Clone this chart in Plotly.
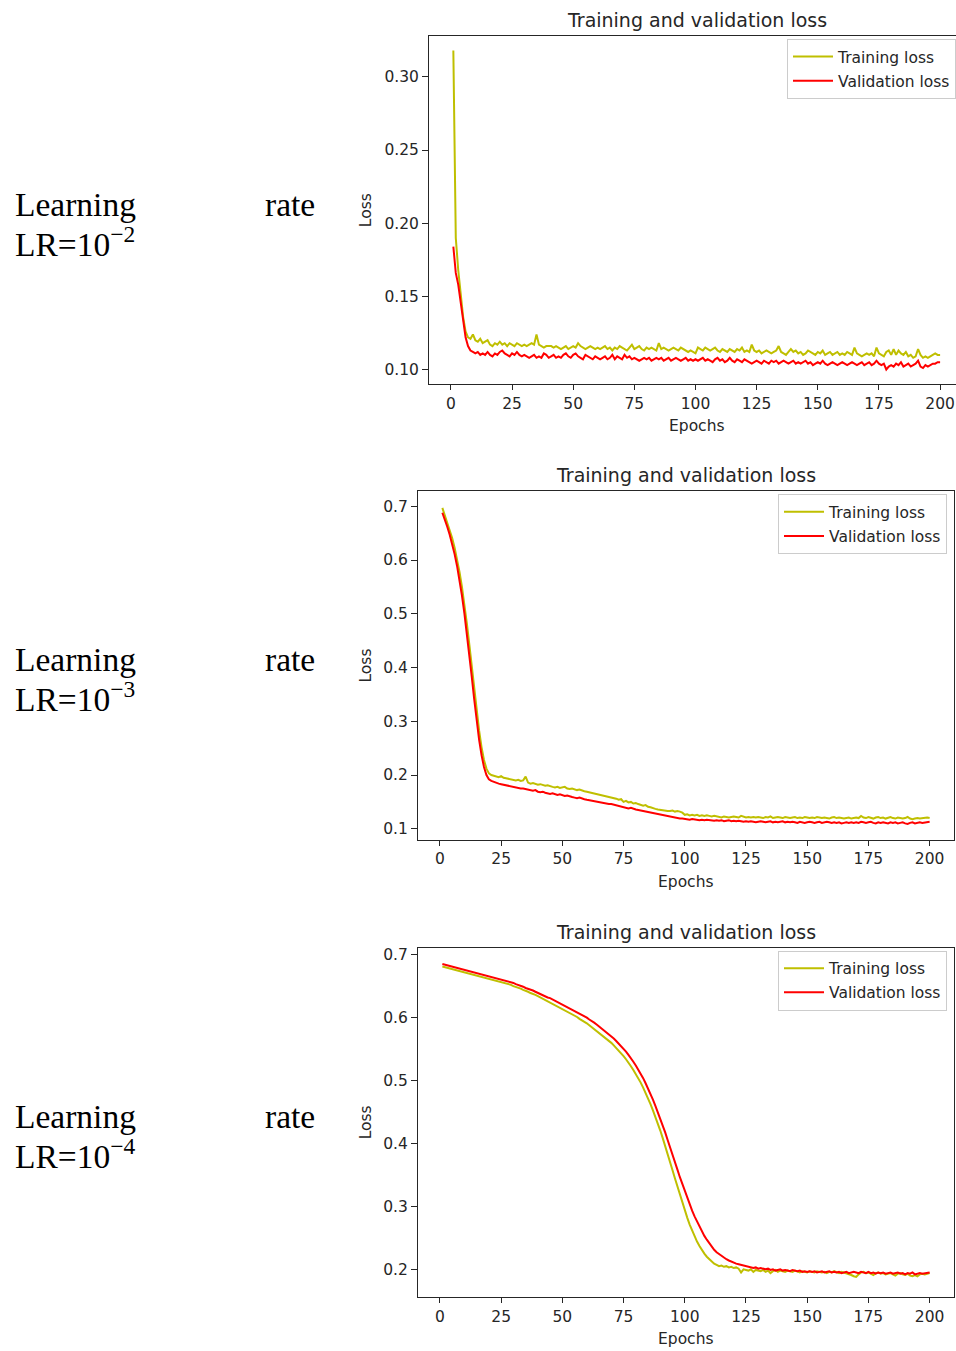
import plotly.graph_objects as go

OFF = 0
W, H = 956, 1351

epochs = list(range(1, 201))
x_ticks = [0, 25, 50, 75, 100, 125, 150, 175, 200]

# ---- LR = 1e-2 ----
train_lr2 = [
    0.318,0.190,0.168,0.150,0.136,0.126,0.122,0.121,0.124,0.120,
    0.119,0.121,0.118,0.119,0.120,0.117,0.116,0.118,0.117,0.119,
    0.117,0.118,0.116,0.118,0.117,0.116,0.118,0.117,0.116,0.117,
    0.116,0.117,0.118,0.117,0.124,0.117,0.116,0.115,0.116,0.116,
    0.116,0.115,0.116,0.115,0.114,0.115,0.116,0.114,0.115,0.116,
    0.115,0.118,0.116,0.115,0.114,0.115,0.116,0.115,0.114,0.115,
    0.114,0.115,0.116,0.114,0.115,0.113,0.115,0.114,0.116,0.115,
    0.114,0.113,0.115,0.117,0.114,0.115,0.116,0.114,0.113,0.115,
    0.114,0.115,0.114,0.113,0.118,0.114,0.115,0.114,0.113,0.114,
    0.115,0.114,0.113,0.115,0.114,0.113,0.112,0.113,0.112,0.111,
    0.115,0.114,0.113,0.115,0.114,0.113,0.114,0.115,0.113,0.112,
    0.114,0.113,0.112,0.114,0.113,0.112,0.114,0.113,0.115,0.112,
    0.113,0.112,0.117,0.113,0.112,0.113,0.111,0.112,0.113,0.112,
    0.111,0.112,0.113,0.116,0.112,0.111,0.110,0.112,0.114,0.112,
    0.113,0.111,0.112,0.110,0.111,0.113,0.112,0.111,0.110,0.112,
    0.111,0.113,0.110,0.111,0.112,0.110,0.111,0.112,0.110,0.111,
    0.110,0.112,0.111,0.110,0.115,0.111,0.110,0.109,0.110,0.111,
    0.110,0.111,0.109,0.115,0.111,0.110,0.109,0.112,0.113,0.110,
    0.114,0.110,0.113,0.111,0.110,0.112,0.109,0.110,0.108,0.109,
    0.114,0.110,0.108,0.109,0.108,0.109,0.110,0.111,0.110,0.110,
]
val_lr2 = [
    0.184,0.166,0.158,0.147,0.133,0.122,0.116,0.113,0.112,0.111,
    0.112,0.110,0.111,0.110,0.112,0.110,0.109,0.111,0.110,0.112,
    0.113,0.111,0.110,0.109,0.111,0.110,0.112,0.110,0.109,0.110,
    0.109,0.108,0.109,0.110,0.108,0.109,0.108,0.111,0.110,0.108,
    0.109,0.110,0.108,0.109,0.108,0.110,0.111,0.109,0.108,0.110,
    0.111,0.109,0.108,0.107,0.110,0.109,0.108,0.107,0.109,0.108,
    0.107,0.108,0.109,0.107,0.108,0.110,0.107,0.109,0.108,0.107,
    0.110,0.108,0.109,0.107,0.108,0.107,0.106,0.107,0.108,0.107,
    0.108,0.106,0.107,0.108,0.107,0.108,0.106,0.107,0.108,0.106,
    0.107,0.108,0.107,0.106,0.107,0.108,0.106,0.107,0.106,0.107,
    0.106,0.107,0.108,0.106,0.107,0.106,0.105,0.107,0.108,0.106,
    0.107,0.105,0.106,0.108,0.106,0.105,0.107,0.106,0.105,0.107,
    0.106,0.105,0.104,0.105,0.106,0.105,0.104,0.106,0.105,0.104,
    0.106,0.105,0.106,0.104,0.105,0.106,0.105,0.104,0.105,0.106,
    0.104,0.105,0.104,0.105,0.106,0.104,0.105,0.103,0.104,0.105,
    0.104,0.106,0.104,0.103,0.104,0.105,0.104,0.103,0.104,0.105,
    0.104,0.103,0.104,0.105,0.104,0.103,0.104,0.105,0.103,0.104,
    0.105,0.103,0.104,0.106,0.104,0.103,0.104,0.100,0.102,0.103,
    0.102,0.104,0.103,0.105,0.102,0.103,0.104,0.102,0.103,0.104,
    0.106,0.102,0.101,0.103,0.102,0.103,0.104,0.104,0.105,0.105,
]

# ---- LR = 1e-3 ----
train_lr3 = [
    0.697,0.684,0.671,0.657,0.641,0.623,0.602,0.578,0.550,0.518,
    0.482,0.443,0.402,0.360,0.320,0.283,0.252,0.228,0.212,0.203,
    0.200,0.199,0.197,0.196,0.198,0.195,0.194,0.193,0.192,0.191,
    0.190,0.191,0.189,0.190,0.197,0.186,0.184,0.185,0.183,0.182,
    0.183,0.181,0.180,0.181,0.179,0.178,0.177,0.178,0.176,0.177,
    0.178,0.175,0.174,0.175,0.173,0.172,0.173,0.171,0.170,0.169,
    0.168,0.167,0.166,0.165,0.164,0.163,0.161,0.160,0.159,0.158,
    0.157,0.156,0.154,0.155,0.150,0.152,0.149,0.150,0.147,0.148,
    0.146,0.145,0.143,0.144,0.141,0.140,0.138,0.137,0.136,0.135,
    0.134,0.134,0.133,0.133,0.134,0.132,0.133,0.132,0.130,0.126,
    0.127,0.125,0.126,0.125,0.126,0.124,0.125,0.124,0.125,0.124,
    0.123,0.124,0.123,0.122,0.121,0.123,0.122,0.121,0.122,0.123,
    0.122,0.121,0.124,0.122,0.121,0.122,0.121,0.122,0.121,0.122,
    0.121,0.120,0.122,0.121,0.123,0.120,0.121,0.122,0.121,0.120,
    0.122,0.121,0.120,0.121,0.122,0.120,0.121,0.120,0.122,0.121,
    0.120,0.121,0.120,0.122,0.121,0.120,0.121,0.120,0.119,0.121,
    0.122,0.120,0.121,0.120,0.119,0.120,0.121,0.119,0.120,0.121,
    0.120,0.124,0.121,0.120,0.122,0.120,0.119,0.121,0.122,0.120,
    0.121,0.119,0.120,0.122,0.120,0.119,0.121,0.120,0.119,0.120,
    0.122,0.119,0.118,0.119,0.120,0.119,0.120,0.121,0.121,0.120,
]
val_lr3 = [
    0.688,0.676,0.662,0.647,0.630,0.611,0.589,0.563,0.534,0.501,
    0.464,0.424,0.383,0.341,0.301,0.266,0.237,0.215,0.200,0.192,
    0.189,0.187,0.186,0.184,0.183,0.182,0.180,0.179,0.178,0.177,
    0.177,0.176,0.175,0.175,0.174,0.173,0.172,0.171,0.172,0.169,
    0.168,0.169,0.167,0.166,0.165,0.166,0.164,0.163,0.164,0.162,
    0.161,0.162,0.160,0.159,0.158,0.157,0.158,0.156,0.155,0.154,
    0.153,0.152,0.152,0.151,0.150,0.149,0.148,0.147,0.146,0.146,
    0.145,0.144,0.143,0.142,0.140,0.139,0.138,0.139,0.137,0.136,
    0.135,0.134,0.133,0.132,0.131,0.130,0.129,0.128,0.127,0.126,
    0.125,0.124,0.123,0.122,0.121,0.121,0.120,0.119,0.119,0.118,
    0.118,0.117,0.118,0.117,0.117,0.116,0.117,0.116,0.117,0.116,
    0.116,0.115,0.116,0.115,0.116,0.114,0.115,0.116,0.114,0.115,
    0.114,0.115,0.114,0.113,0.114,0.113,0.114,0.113,0.112,0.113,
    0.114,0.113,0.112,0.113,0.114,0.112,0.113,0.112,0.113,0.114,
    0.112,0.113,0.112,0.113,0.112,0.111,0.113,0.112,0.111,0.112,
    0.113,0.112,0.111,0.112,0.113,0.111,0.112,0.113,0.112,0.111,
    0.112,0.111,0.112,0.110,0.111,0.112,0.111,0.112,0.111,0.112,
    0.111,0.113,0.112,0.111,0.112,0.113,0.111,0.110,0.112,0.111,
    0.112,0.111,0.110,0.112,0.111,0.112,0.110,0.111,0.112,0.110,
    0.109,0.111,0.112,0.110,0.111,0.112,0.111,0.112,0.113,0.113,
]

# ---- LR = 1e-4 ----
train_lr4 = [
    0.681,0.680,0.679,0.678,0.677,0.676,0.675,0.674,0.673,0.672,
    0.671,0.670,0.669,0.668,0.667,0.666,0.665,0.664,0.663,0.662,
    0.661,0.660,0.659,0.658,0.657,0.656,0.654,0.653,0.652,0.650,
    0.649,0.647,0.646,0.644,0.643,0.641,0.639,0.638,0.636,0.634,
    0.632,0.630,0.628,0.626,0.624,0.622,0.620,0.618,0.616,0.614,
    0.612,0.610,0.608,0.606,0.603,0.601,0.598,0.596,0.593,0.591,
    0.588,0.585,0.582,0.579,0.576,0.573,0.570,0.567,0.563,0.560,
    0.556,0.552,0.548,0.544,0.539,0.534,0.529,0.523,0.517,0.511,
    0.504,0.497,0.489,0.481,0.472,0.463,0.453,0.443,0.432,0.421,
    0.409,0.397,0.384,0.371,0.358,0.345,0.332,0.319,0.307,0.295,
    0.283,0.272,0.262,0.253,0.245,0.238,0.231,0.226,0.221,0.217,
    0.214,0.210,0.208,0.206,0.207,0.205,0.206,0.204,0.205,0.203,
    0.204,0.202,0.196,0.201,0.200,0.199,0.201,0.197,0.200,0.199,
    0.198,0.200,0.197,0.199,0.195,0.198,0.200,0.197,0.199,0.198,
    0.197,0.199,0.198,0.197,0.199,0.198,0.196,0.198,0.197,0.196,
    0.198,0.197,0.196,0.198,0.197,0.196,0.197,0.195,0.197,0.196,
    0.198,0.196,0.195,0.197,0.196,0.195,0.193,0.192,0.190,0.189,
    0.193,0.196,0.197,0.195,0.196,0.194,0.192,0.195,0.196,0.194,
    0.195,0.193,0.194,0.195,0.193,0.191,0.194,0.195,0.193,0.192,
    0.194,0.191,0.190,0.192,0.190,0.193,0.194,0.193,0.194,0.195,
]
val_lr4 = [
    0.685,0.684,0.683,0.682,0.681,0.680,0.679,0.678,0.677,0.676,
    0.675,0.674,0.673,0.672,0.671,0.670,0.669,0.668,0.667,0.666,
    0.665,0.664,0.663,0.662,0.661,0.660,0.659,0.657,0.656,0.655,
    0.653,0.652,0.650,0.649,0.647,0.646,0.644,0.643,0.641,0.639,
    0.638,0.636,0.634,0.632,0.631,0.629,0.627,0.625,0.623,0.621,
    0.619,0.617,0.615,0.613,0.611,0.609,0.607,0.604,0.602,0.600,
    0.597,0.595,0.592,0.589,0.586,0.583,0.580,0.577,0.574,0.570,
    0.567,0.563,0.559,0.555,0.551,0.546,0.541,0.536,0.530,0.524,
    0.518,0.511,0.504,0.496,0.488,0.479,0.470,0.460,0.450,0.440,
    0.429,0.418,0.406,0.395,0.383,0.371,0.359,0.347,0.336,0.325,
    0.314,0.304,0.294,0.285,0.277,0.269,0.261,0.254,0.248,0.242,
    0.237,0.232,0.228,0.225,0.222,0.219,0.217,0.215,0.213,0.212,
    0.210,0.209,0.208,0.207,0.205,0.204,0.204,0.203,0.204,0.202,
    0.203,0.202,0.201,0.202,0.200,0.201,0.199,0.200,0.201,0.199,
    0.200,0.199,0.198,0.200,0.199,0.198,0.199,0.197,0.198,0.197,
    0.198,0.197,0.198,0.196,0.197,0.198,0.196,0.197,0.198,0.196,
    0.197,0.196,0.197,0.195,0.196,0.197,0.195,0.196,0.197,0.196,
    0.195,0.197,0.196,0.195,0.197,0.195,0.196,0.194,0.196,0.195,
    0.196,0.194,0.195,0.196,0.194,0.195,0.196,0.194,0.195,0.193,
    0.195,0.194,0.196,0.193,0.194,0.195,0.194,0.195,0.196,0.196,
]

y_ticks_1 = [0.10, 0.15, 0.20, 0.25, 0.30]
y_ticks_2 = [0.1, 0.2, 0.3, 0.4, 0.5, 0.6, 0.7]
y_ticks_3 = [0.2, 0.3, 0.4, 0.5, 0.6, 0.7]
lr_labels = ["LR=10<sup>−2</sup>", "LR=10<sup>−3</sup>", "LR=10<sup>−4</sup>"]
title_text = "Training and validation loss"
series_names = ["Training loss", "Validation loss"]

TRAIN_C = "#bfbf00"
VAL_C = "#ff0000"
TXT = "#262626"
SANS = "DejaVu Sans"
SERIF = "Liberation Serif"


def fx(p):
    """page pixel x -> paper fraction"""
    return (p - OFF) / W


def fy(p):
    """page pixel y -> paper fraction"""
    return 1 - (p - OFF) / H


# panel geometry in page pixels
panels = [
    dict(l=429, r=956, t=34, b=383, xr=[-8.95, 206.5], yr=[0.0898, 0.328],
         yt=y_ticks_1, fmt=".2f", tr=train_lr2, va=val_lr2, cx=696.5, mirror_y=False,
         lgr=956),
    dict(l=418, r=954, t=490, b=839, xr=[-8.95, 209.95], yr=[0.0796, 0.7279],
         yt=y_ticks_2, fmt=".1f", tr=train_lr3, va=val_lr3, cx=686, mirror_y=True,
         lgr=947),
    dict(l=418, r=954, t=947, b=1297, xr=[-8.95, 209.95], yr=[0.157, 0.711],
         yt=y_ticks_3, fmt=".1f", tr=train_lr4, va=val_lr4, cx=686, mirror_y=True,
         lgr=947),
]

fig = go.Figure()
annotations = []
for i, p in enumerate(panels):
    n = i + 1
    xa = "x" if n == 1 else f"x{n}"
    ya = "y" if n == 1 else f"y{n}"
    lg = "legend" if n == 1 else f"legend{n}"
    fig.add_trace(go.Scatter(x=epochs[:len(p["tr"])], y=p["tr"], mode="lines",
                             name=series_names[0], line=dict(color=TRAIN_C, width=2),
                             xaxis=xa, yaxis=ya, legend=lg, legendgroup=f"t{n}"))
    fig.add_trace(go.Scatter(x=epochs[:len(p["va"])], y=p["va"], mode="lines",
                             name=series_names[1], line=dict(color=VAL_C, width=2),
                             xaxis=xa, yaxis=ya, legend=lg, legendgroup=f"v{n}"))
    xkey = "xaxis" if n == 1 else f"xaxis{n}"
    ykey = "yaxis" if n == 1 else f"yaxis{n}"
    fig.update_layout(**{
        xkey: dict(domain=[fx(p["l"]), min(1.0, fx(p["r"]))], range=p["xr"], anchor=ya,
                   tickvals=x_ticks, ticks="outside", ticklen=5, tickcolor=TXT,
                   showline=True, linecolor=TXT, linewidth=1, mirror=True,
                   showgrid=False, zeroline=False,
                   tickfont=dict(family=SANS, size=15.5, color=TXT)),
        ykey: dict(domain=[fy(p["b"]), fy(p["t"])], range=p["yr"], anchor=xa,
                   tickvals=p["yt"], tickformat=p["fmt"], ticks="outside", ticklen=6,
                   tickcolor=TXT, showline=True, linecolor=TXT, linewidth=1,
                   mirror=p["mirror_y"], showgrid=False, zeroline=False,
                   tickfont=dict(family=SANS, size=15.5, color=TXT)),
        lg: dict(x=min(1.0, fx(p["lgr"])), xanchor="right",
                 y=fy(p["t"] + 3), yanchor="top",
                 bgcolor="rgba(255,255,255,0.85)", bordercolor="#cccccc", borderwidth=1,
                 font=dict(family=SANS, size=15.5, color=TXT), tracegroupgap=1,
                 itemwidth=40),
    })
    # title
    annotations.append(dict(text=title_text, x=fx(p["cx"]), y=fy(p["t"] - 16),
                            xref="paper", yref="paper", showarrow=False,
                            xanchor="center", yanchor="middle",
                            font=dict(family=SANS, size=19, color=TXT)))
    # x label
    annotations.append(dict(text="Epochs", x=fx(p["cx"]), y=fy(p["b"] + 42),
                            xref="paper", yref="paper", showarrow=False,
                            xanchor="center", yanchor="middle",
                            font=dict(family=SANS, size=15.5, color=TXT)))
    # y label
    annotations.append(dict(text="Loss", x=fx(366), y=fy((p["t"] + p["b"]) / 2),
                            xref="paper", yref="paper", showarrow=False, textangle=-90,
                            xanchor="center", yanchor="middle",
                            font=dict(family=SANS, size=15.5, color=TXT)))
    # left side caption
    cy = (p["t"] + p["b"]) / 2
    annotations.append(dict(text="Learning", x=fx(13), y=fy(cy - 6),
                            xref="paper", yref="paper", showarrow=False,
                            xanchor="left", yanchor="middle",
                            font=dict(family=SERIF, size=33.5, color="black")))
    annotations.append(dict(text="rate", x=fx(317), y=fy(cy - 6),
                            xref="paper", yref="paper", showarrow=False,
                            xanchor="right", yanchor="middle",
                            font=dict(family=SERIF, size=33.5, color="black")))
    annotations.append(dict(text=lr_labels[i], x=fx(13), y=fy(cy + 32),
                            xref="paper", yref="paper", showarrow=False,
                            xanchor="left", yanchor="middle",
                            font=dict(family=SERIF, size=33.5, color="black")))

fig.update_layout(width=W, height=H, margin=dict(l=0, r=0, t=0, b=0),
                  paper_bgcolor="white", plot_bgcolor="white",
                  annotations=annotations, showlegend=True)

fig.write_html(
    "out.html",
    config={"displayModeBar": False},
    post_script="document.body.style.margin='0';document.body.style.overflow='hidden';",
)
